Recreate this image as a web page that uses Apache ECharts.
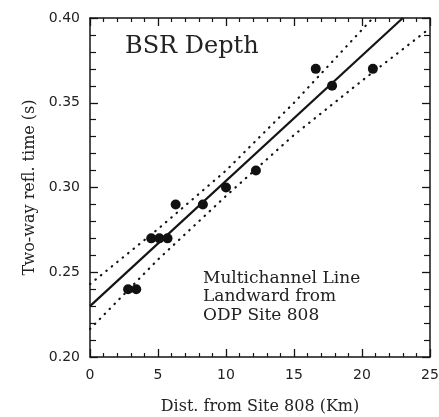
<!DOCTYPE html>
<html>
<head>
<meta charset="utf-8">
<script src="https://cdn.jsdelivr.net/npm/echarts@6/dist/echarts.min.js"></script>
<style>
    html, body { margin: 0; padding: 0; background: #fff; }
    #chart { width: 439px; height: 417px; }
</style>
</head>
<body>
<div id="chart"></div>
<script>
// 测点数据 (Km, s)
var distKm = [2.8, 3.4, 4.5, 5.1, 5.7, 6.3, 8.3, 10.0, 12.2, 16.6, 17.8, 20.8];
var reflTime = [0.24, 0.24, 0.27, 0.27, 0.27, 0.29, 0.29, 0.30, 0.31, 0.37, 0.36, 0.37];
// 回归线
var fitX = [0, 23.0];
var fitY = [0.23, 0.40];
// 置信带 (上/下)
var upperX = [0, 5, 10, 15, 20.8];
var upperY = [0.243, 0.2755, 0.310, 0.350, 0.400];
var lowerX = [0, 5, 10, 15, 20, 25];
var lowerY = [0.2165, 0.2575, 0.295, 0.331, 0.363, 0.394];
var xTicks = [0, 5, 10, 15, 20, 25];

function pairs(xs, ys) {
    var out = [];
    for (var i = 0; i < xs.length; i++) {
        out.push([xs[i], ys[i]]);
    }
    return out;
}

var chart = echarts.init(document.getElementById('chart'));
var ink = '#141414';
var serif = 'DejaVu Serif';

// 坐标轴公共样式，刻度朝内
function axisBase(extra) {
    var base = {
        type: 'value',
        axisLine: { show: true, onZero: false, lineStyle: { color: ink, width: 1.5 } },
        axisTick: { show: true, inside: true, length: 8, lineStyle: { color: ink, width: 1.3 } },
        minorTick: { show: true, splitNumber: 5, length: 4, lineStyle: { color: ink, width: 1.2 } },
        splitLine: { show: false },
        minorSplitLine: { show: false }
    };
    for (var k in extra) base[k] = extra[k];
    return base;
}

chart.setOption({
    backgroundColor: '#fff',
    animation: false,
    grid: { left: 90, right: 9, top: 18, bottom: 60, outerBoundsMode: 'none' },
    xAxis: [
        axisBase({
            min: 0, max: 25, interval: 5, position: 'bottom',
            name: 'Dist. from Site 808 (Km)',
            nameLocation: 'middle', nameGap: 42,
            nameTextStyle: { fontFamily: serif, fontSize: 16, color: '#222' },
            axisLabel: {
                margin: 11, fontFamily: 'DejaVu Sans', fontSize: 14, color: '#222',
                formatter: function (v) { return xTicks.indexOf(v) >= 0 ? String(v) : ''; }
            }
        }),
        axisBase({ min: 0, max: 25, interval: 5, position: 'top', axisLabel: { show: false } })
    ],
    yAxis: [
        axisBase({
            min: 0.2, max: 0.4, interval: 0.05, position: 'left',
            name: 'Two-way refl. time (s)',
            nameLocation: 'middle', nameGap: 51,
            nameTextStyle: { fontFamily: serif, fontSize: 16, color: '#222' },
            minorTick: { show: true, splitNumber: 5, length: 6, lineStyle: { color: ink, width: 1.2 } },
            axisLabel: {
                margin: 10, fontFamily: 'DejaVu Sans', fontSize: 14, color: '#222',
                formatter: function (v) { return v.toFixed(2); }
            }
        }),
        axisBase({
            min: 0.2, max: 0.4, interval: 0.05, position: 'right', axisLabel: { show: false },
            minorTick: { show: true, splitNumber: 5, length: 6, lineStyle: { color: ink, width: 1.2 } }
        })
    ],
    graphic: [
        {
            type: 'text', left: 125, top: 35,
            style: { text: 'BSR Depth', fontFamily: serif, fontSize: 24, fill: '#222' }
        },
        {
            type: 'text', left: 203, top: 269,
            style: {
                text: 'Multichannel Line\nLandward from\nODP Site 808',
                fontFamily: serif, fontSize: 17, lineHeight: 18.5, fill: '#222'
            }
        }
    ],
    series: [
        {
            name: 'upper', type: 'line', data: pairs(upperX, upperY),
            symbol: 'none', silent: true, clip: true,
            lineStyle: { color: ink, width: 2.2, type: [0.5, 6.5], cap: 'round' }
        },
        {
            name: 'lower', type: 'line', data: pairs(lowerX, lowerY),
            symbol: 'none', silent: true, clip: true,
            lineStyle: { color: ink, width: 2.2, type: [0.5, 6.5], cap: 'round' }
        },
        {
            name: 'fit', type: 'line', data: pairs(fitX, fitY),
            symbol: 'none', silent: true, clip: true,
            lineStyle: { color: ink, width: 2.2 }
        },
        {
            name: 'BSR', type: 'scatter', data: pairs(distKm, reflTime),
            symbolSize: 10,
            itemStyle: { color: '#111', opacity: 1 }
        }
    ]
});

window.addEventListener('resize', function () {
    chart.resize();
});
</script>
</body>
</html>
